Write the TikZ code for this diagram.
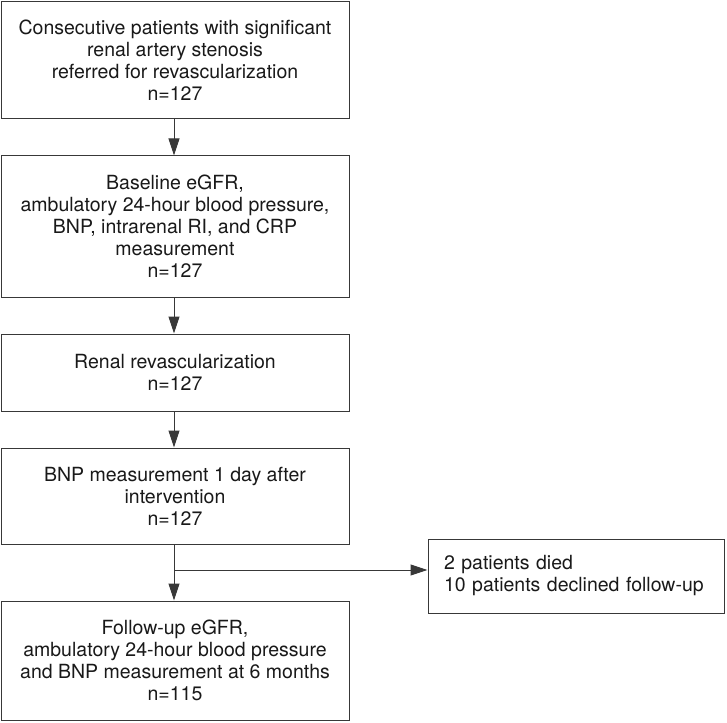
\documentclass[tikz,border=0pt]{standalone}
\usepackage{fontspec}
\setmainfont{TeX Gyre Heros}
\usetikzlibrary{arrows.meta}
\begin{document}
\begin{tikzpicture}[x=1pt,y=-1pt,
  box/.style={draw=black!78, line width=1pt, fill=white, inner sep=0pt,
    align=center, text=black!90, font=\fontsize{19.5}{22}\selectfont},
  conn/.style={draw=black!78, line width=1pt, -{Triangle[length=17pt,width=11pt]}}]
\useasboundingbox (0,0) rectangle (727,722);
\fill[white] (0,0) rectangle (727,722);
\node[box, minimum width=348pt, minimum height=117pt] (b1) at (175,60.5)
  {Consecutive patients with significant\\renal artery stenosis\\referred for revascularization\\n=127};
\node[box, minimum width=348pt, minimum height=141pt] (b2) at (175,226.5)
  {Baseline eGFR,\\ambulatory 24-hour blood pressure,\\BNP, intrarenal RI, and CRP\\measurement\\n=127};
\node[box, minimum width=348pt, minimum height=77pt] (b3) at (175,372.5)
  {Renal revascularization\\n=127};
\node[box, minimum width=348pt, minimum height=96pt] (b4) at (175,496)
  {BNP measurement 1 day after\\intervention\\n=127};
\node[box, minimum width=348pt, minimum height=119pt] (b5) at (175,660.5)
  {Follow-up eGFR,\\ambulatory 24-hour blood pressure\\and BNP measurement at 6 months\\n=115};
\node[box, minimum width=296pt, minimum height=74pt, align=left, text width=264pt] (side) at (576,576)
  {2 patients died\\10 patients declined follow-up};
\coordinate (br) at (174,570);
\draw[conn] (b1.south -| 174,0) -- (b2.north -| 174,0);
\draw[conn] (b2.south -| 174,0) -- (b3.north -| 174,0);
\draw[conn] (b3.south -| 174,0) -- (b4.north -| 174,0);
\draw[conn] (b4.south -| 174,0) -- (b5.north -| 174,0);
\draw[conn] (br) -- (side.west |- br);
\end{tikzpicture}
\end{document}
